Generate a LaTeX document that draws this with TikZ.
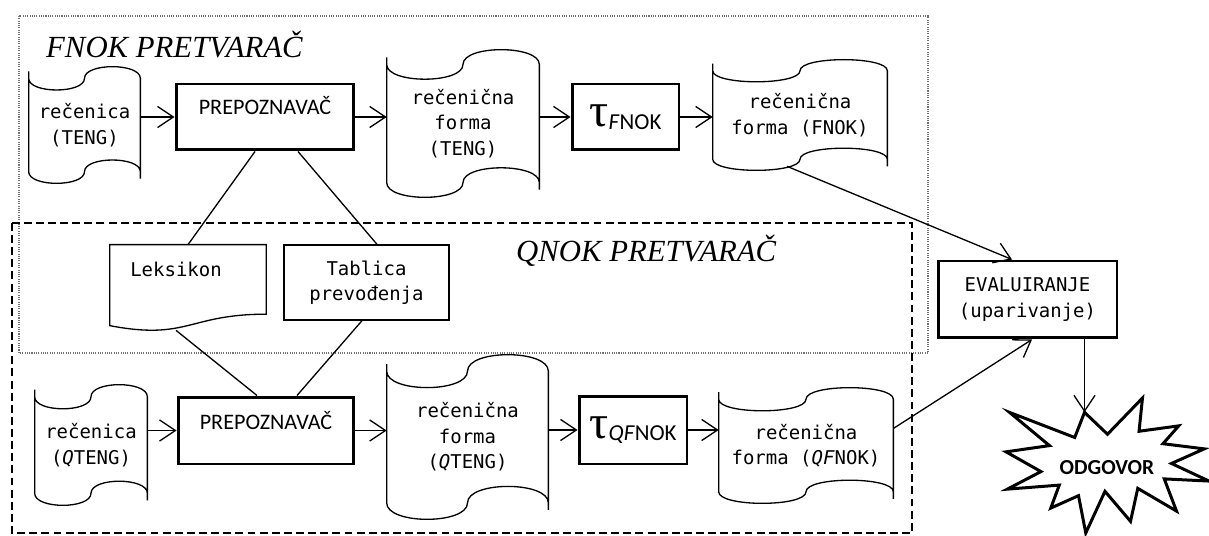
\documentclass[tikz,border=0pt]{standalone}
\usepackage{fontspec}
\usetikzlibrary{arrows.meta,calc}
\newfontfamily\tapefont{DejaVu Sans Mono}
\newfontfamily\boxfont{Carlito}
\newfontfamily\pretfont{Liberation Serif}

\tikzset{
  tapebox/.style={inner sep=0pt,align=center,
    font=\tapefont\fontsize{10.8}{14.5}\selectfont},
  tapeline/.style={line width=0.75pt},
  thinbox/.style={draw,line width=0.75pt,fill=white,inner sep=0pt,align=center,
    font=\tapefont\fontsize{10.8}{14.5}\selectfont},
  thickbox/.style={draw,line width=1.7pt,fill=white,inner sep=0pt,align=center},
  prepbox/.style={thickbox,font=\boxfont\fontsize{12.6}{14}\selectfont},
  arr/.style={line width=0.75pt,-{Straight Barb[length=9pt,width=12pt]}},
  conn/.style={line width=0.75pt},
  dotframe/.style={draw=black!55,line width=0.6pt,dash pattern=on 0.6pt off 0.7pt},
  dashframe/.style={line width=0.8pt,dash pattern=on 4.5pt off 2.4pt},
  pretlabel/.style={anchor=base west,font=\pretfont\itshape\fontsize{17.5}{20}\selectfont},
}
% punched tape round a node: waves of a tenth of its height
\newcommand{\punchtape}[1]{%
  \draw[tapeline] let \p1=(#1.north west), \p2=(#1.south east),
    \n1={0.1*(\y1-\y2)}, \n2={(\x1+\x2)/2} in
    (\x1,\y1-\n1) .. controls (\x1,\y1-2.333*\n1) and (\n2,\y1-2.333*\n1) .. (\n2,\y1-\n1)
    .. controls (\n2,\y1+0.333*\n1) and (\x2,\y1+0.333*\n1) .. (\x2,\y1-\n1)
    -- (\x2,\y2+\n1)
    .. controls (\x2,\y2+2.333*\n1) and (\n2,\y2+2.333*\n1) .. (\n2,\y2+\n1)
    .. controls (\n2,\y2-0.333*\n1) and (\x1,\y2-0.333*\n1) .. (\x1,\y2+\n1) -- cycle
    (\x1,\y1-\n1) -- ++(0,4pt) (\x2,\y2+\n1) -- ++(0,-4pt);}
% document sheet with a wavy lower edge
\newcommand{\docoutline}[1]{%
  \draw[tapeline] let \p1=(#1.north west), \p2=(#1.south east),
    \n1={\y1-\y2}, \n2={(\x1+\x2)/2} in
    (\x1,\y1) -- (\x2,\y1) -- (\x2,\y1-0.802*\n1)
    .. controls (\n2,\y1-0.802*\n1) and (\n2,\y1-1.107*\n1) .. (\x1,\y1-0.934*\n1) -- cycle;}
\newcommand{\taulabel}[1]{{\pretfont\fontsize{27}{27}\selectfont τ}%
  {\boxfont\fontsize{13}{13}\selectfont\raisebox{-1.5pt}{\textit{#1}NOK}}}

\begin{document}
\begin{tikzpicture}[x=0.02cm,y=-0.02cm]
  % one unit = one pixel of the 1209x536 sketch, y grows downwards
  \useasboundingbox (0,0) rectangle (1209,536);

  % frames of the two converters
  \draw[dotframe] (19,16) rectangle (928,353);
  \draw[dashframe] (12,223) rectangle (912,533);
  \node[pretlabel] (fnoktitle) at (40,58) {FNOK PRETVARAČ};
  \node[pretlabel] (qnoktitle) at (510,262) {QNOK PRETVARAČ};

  % upper row
  \node[tapebox,minimum width=2.22cm,minimum height=2.32cm] (tA) at (84.5,125) {rečenica\\(TENG)};
  \node[prepbox,minimum width=3.56cm,text height=0.62cm,text depth=0.70cm] (pA) at (265,117) {PREPOZNAVAČ};
  \node[tapebox,minimum width=3.04cm,minimum height=2.94cm] (tB) at (463,123.5) {rečenična\\forma\\(TENG)};
  \node[thickbox,minimum width=2.14cm,minimum height=1.32cm] (fA) at (625.5,117) {\taulabel{F}};
  \node[tapebox,minimum width=3.48cm,minimum height=2.2cm] (tC) at (800,115) {rečenična\\forma (FNOK)};

  % lower row
  \node[tapebox,minimum width=2.24cm,minimum height=2.4cm] (tD) at (91,445) {rečenica\\(\textit{Q}TENG)};
  \node[prepbox,minimum width=3.52cm,text height=0.64cm,text depth=0.70cm] (pB) at (266,430.5) {PREPOZNAVAČ};
  \node[tapebox,minimum width=3.22cm,minimum height=3.28cm] (tE) at (467.5,437) {rečenična\\forma\\(\textit{Q}TENG)};
  \node[thickbox,minimum width=2.16cm,minimum height=1.36cm] (fB) at (633,430) {\taulabel{QF}};
  \node[tapebox,minimum width=3.48cm,minimum height=2.3cm] (tF) at (806,445.5) {rečenična\\forma (\textit{QF}NOK)};

  \foreach \t in {tA,tB,tC,tD,tE,tF}{\punchtape{\t}}

  % shared resources
  \node[tapebox,minimum width=3.12cm,text height=0.62cm,text depth=1.1cm] (lek) at (188,288) {Leksikon\hspace*{0.48cm}};
  \docoutline{lek}
  \node[thinbox,minimum width=3.3cm,minimum height=1.5cm] (tab) at (366.5,282.5) {Tablica\\prevođenja};

  % evaluation and answer
  \node[thickbox,minimum width=3.58cm,minimum height=1.54cm,
    font=\tapefont\fontsize{10.8}{14.5}\selectfont] (ev) at (1027.5,299.5) {EVALUIRANJE\\(uparivanje)};
  % explosion outline, corners in units of its 203x135 box
  \begin{scope}[shift={(1006,398)},xscale=203,yscale=135]
    \draw[line width=1.7pt,fill=white,line join=miter]
      (0.5,0.2685) -- (0.6723,0) -- (0.6553,0.2465) -- (0.8509,0.2063) -- (0.7732,0.3387)
      -- (0.9767,0.3767) -- (0.8151,0.4850) -- (1,0.6153) -- (0.7795,0.5992) -- (0.84,0.8377)
      -- (0.6491,0.6693) -- (0.6133,0.9137) -- (0.4876,0.6914) -- (0.3928,1) -- (0.3572,0.7235)
      -- (0.2205,0.8156) -- (0.2624,0.6452) -- (0.00625,0.6753) -- (0.1723,0.5451) -- (0,0.3988)
      -- (0.2142,0.3526) -- (0.0171,0.1063) -- (0.3385,0.2926) -- (0.3867,0.1063) -- cycle;
    \coordinate (odgtop) at (0.3867,0.1063);
  \end{scope}
  \node[font=\boxfont\bfseries\fontsize{12.2}{13}\selectfont] (odg) at (1107,468) {ODGOVOR};

  % flow arrows
  \draw[arr] (tA.east |- pA.west) -- (pA.west);
  \draw[arr] (pA.east) -- (pA.east -| tB.west);
  \draw[arr] (tB.east |- fA.west) -- (fA.west);
  \draw[arr] (fA.east) -- (fA.east -| tC.west);
  \draw[arr] (tD.east |- pB.west) -- (pB.west);
  \draw[arr] (pB.east) -- (pB.east -| tE.west);
  \draw[arr] (tE.east |- fB.west) -- (fB.west);
  \draw[arr] (fB.east) -- (fB.east -| tF.west);
  \draw[arr] ($(tC.south)+(-13,-4)$) -- ($(ev.north)+(-15.5,0)$);
  \draw[arr] ($(tF.east)+(0,-17)$) -- ($(ev.south)+(4.5,0)$);
  \draw[arr] (ev.south -| odgtop) -- (odgtop);

  % lookups of both recognizers
  \draw[conn] ($(pA.south)+(-10,0)$) -- (lek.north);
  \draw[conn] ($(pA.south)+(33,0)$) -- ($(tab.north)+(10.5,0)$);
  \draw[conn] ($(lek.south)+(-12,-1)$) -- ($(pB.north)+(-9,0)$);
  \draw[conn] ($(tab.south)+(-4.5,0)$) -- ($(pB.north)+(31,0)$);
\end{tikzpicture}
\end{document}
